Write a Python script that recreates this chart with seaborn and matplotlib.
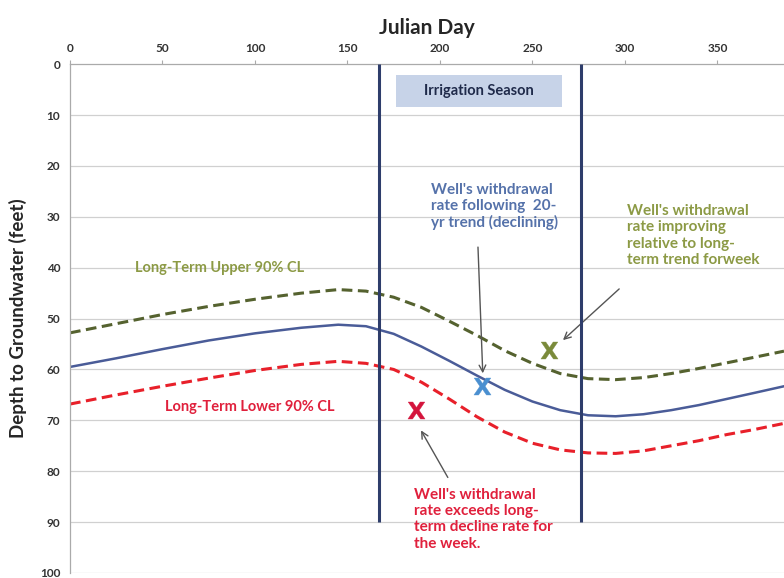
import pandas as pd
import numpy as np
import matplotlib
matplotlib.use("Agg")
import matplotlib.pyplot as plt
import seaborn as sns

# Curve values (Julian day vs depth in feet)
days = [0, 25, 50, 75, 100, 125, 145, 160, 175, 190, 205, 220, 235, 250,
        265, 280, 295, 310, 325, 340, 355, 370, 386]
trend = [59.5, 57.8, 56.0, 54.3, 52.9, 51.8, 51.2, 51.5, 53.0, 55.5, 58.3,
         61.2, 64.0, 66.3, 68.0, 69.0, 69.2, 68.8, 68.0, 67.0, 65.8, 64.6, 63.3]
upper = [52.8, 51.0, 49.2, 47.6, 46.2, 45.0, 44.3, 44.6, 45.8, 47.8, 50.5,
         53.3, 56.3, 58.8, 60.8, 61.8, 62.0, 61.6, 60.8, 59.8, 58.7, 57.6, 56.4]
lower = [66.8, 65.0, 63.3, 61.7, 60.2, 59.0, 58.4, 58.8, 60.0, 62.5, 65.8,
         69.3, 72.3, 74.5, 75.8, 76.4, 76.5, 76.0, 75.0, 74.0, 72.8, 71.8, 70.6]

# Weekly well readings
well_day = [223, 259, 187]
well_depth = [63.3, 56.2, 68.0]
well_colors = ["#4A8FD0", "#7A8A3A", "#D4143C"]

season_start, season_end = 167, 276

df = pd.DataFrame({"day": days, "trend": trend, "upper": upper, "lower": lower})

sns.set_theme(style="white")
plt.rcParams['font.family'] = ['Lato', 'DejaVu Sans']

fig = plt.figure(figsize=(7.84, 5.78), dpi=100)
ax = fig.add_axes([0.0893, 0.0087, 0.9107, 0.8802])

# grid
for v in range(10, 101, 10):
    ax.axhline(v, color="#D0D0D0", lw=0.9, zorder=0)

sns.lineplot(data=df, x="day", y="upper", ax=ax, color="#55622F", lw=2.2,
             linestyle=(0, (3.5, 1.8)))
sns.lineplot(data=df, x="day", y="trend", ax=ax, color="#4A5C98", lw=1.8)
sns.lineplot(data=df, x="day", y="lower", ax=ax, color="#E8202A", lw=2.2,
             linestyle=(0, (3.5, 1.8)))

# irrigation season boundaries
ax.vlines([season_start, season_end], 0, 90, color="#2E3D6B", lw=2.2, zorder=4)
ax.add_patch(plt.Rectangle((176, 2.1), 90, 6.3, facecolor="#C7D3E8",
                           edgecolor="none", zorder=3))
ax.text(221, 5.3, "Irrigation Season", ha="center", va="center",
        fontsize=10.5, fontweight="bold", color="#1F2A4A", zorder=5)

for d, y, c in zip(well_day, well_depth, well_colors):
    ax.scatter(d, y, marker=r"$\mathbf{X}$", s=150, color=c, zorder=6,
               linewidths=0.3)

ax.text(81, 40, "Long-Term Upper 90% CL", ha="center", va="center",
        fontsize=10.5, fontweight="bold", color="#8C9A45")
ax.text(97, 67.4, "Long-Term Lower 90% CL", ha="center", va="center",
        fontsize=10.5, fontweight="bold", color="#E0203C")

fs = 11
arrow = dict(arrowstyle="->", color="#555555", lw=1.0)
ax.annotate("Well's withdrawal\nrate following  20-\nyr trend (declining)",
            xy=(223.2, 61.3), xytext=(195, 23.3), ha="left", va="top",
            fontsize=fs, fontweight="bold", color="#5572AA", linespacing=1.2)
ax.annotate("", xy=(223.2, 61.3), xytext=(220.5, 35.4), arrowprops=arrow)
ax.annotate("Well's withdrawal\nrate improving\nrelative to long-\nterm trend forweek",
            xy=(265.4, 54.6), xytext=(301, 27.5), ha="left", va="top",
            fontsize=fs, fontweight="bold", color="#8C9A45", linespacing=1.2)
ax.annotate("", xy=(265.4, 54.6), xytext=(298, 43.8), arrowprops=arrow)
ax.annotate("Well's withdrawal\nrate exceeds long-\nterm decline rate for\nthe week.",
            xy=(189, 71.5), xytext=(186, 83.3), ha="left", va="top",
            fontsize=fs, fontweight="bold", color="#E0203C", linespacing=1.2)
ax.annotate("", xy=(189, 71.5), xytext=(205, 81.7), arrowprops=arrow)

ax.set_xlim(0, 386)
ax.set_ylim(100, 0)
ax.xaxis.tick_top()
ax.xaxis.set_label_position("top")
ax.set_xticks(range(0, 351, 50))
ax.set_yticks(range(0, 101, 10))
ax.tick_params(axis="both", labelsize=8.5, colors="#333333", length=3,
               width=0.8, color="#AAAAAA", pad=4)
for lab in ax.get_xticklabels() + ax.get_yticklabels():
    lab.set_fontweight("bold")
ax.set_xlabel("Julian Day", fontsize=15, fontweight="bold", labelpad=7)
ax.set_ylabel("Depth to Groundwater (feet)", fontsize=13.5, fontweight="bold",
              labelpad=9)

for s in ["right", "bottom"]:
    ax.spines[s].set_visible(False)
for s in ["left", "top"]:
    ax.spines[s].set_color("#AAAAAA")
    ax.spines[s].set_linewidth(0.9)

fig.savefig("out.png", dpi=100)
